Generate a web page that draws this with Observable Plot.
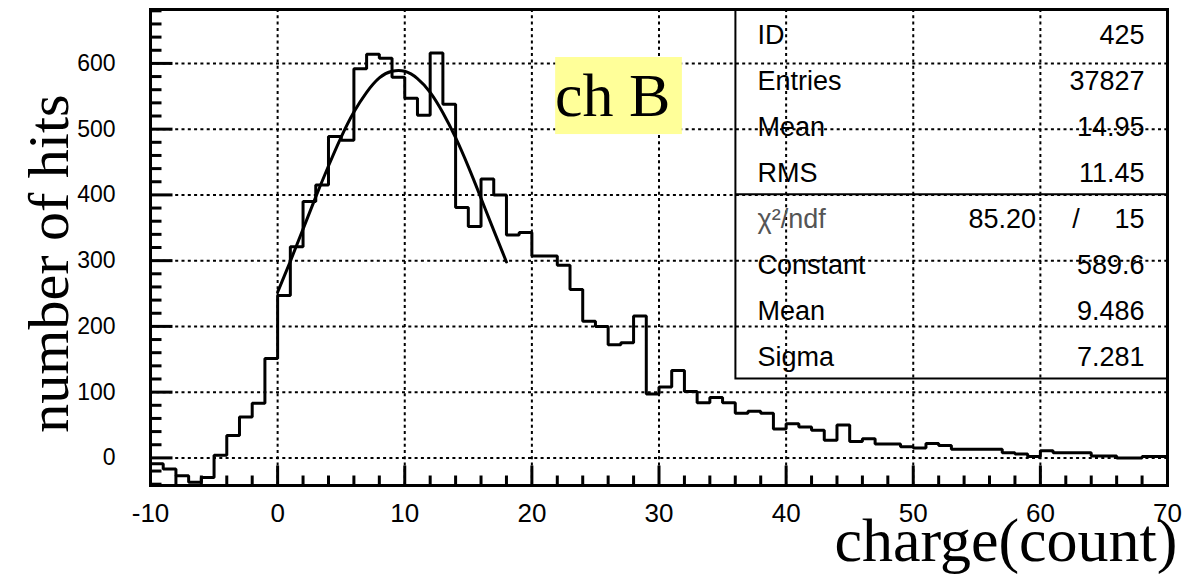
<!DOCTYPE html>
<html><head><meta charset="utf-8">
<script src="https://cdn.jsdelivr.net/npm/d3@7"></script>
<script src="https://cdn.jsdelivr.net/npm/@observablehq/plot@0.6"></script>
<style>body{margin:0;background:#fff} #chart svg{display:block}</style>
</head><body><div id="chart"></div>
<script>
// ---- data ----
const binLowEdges = [-10,-9,-8,-7,-6,-5,-4,-3,-2,-1,0,1,2,3,4,5,6,7,8,9,10,11,12,13,14,15,16,17,18,19,20,21,22,23,24,25,26,27,28,29,30,31,32,33,34,35,36,37,38,39,40,41,42,43,44,45,46,47,48,49,50,51,52,53,54,55,56,57,58,59,60,61,62,63,64,65,66,67,68,69];
const binUpperEdge = 70;
const hitCounts = [-9,-17,-27,-37,-30,4,34,62,83,151,247,321,390,415,489,483,592,614,608,579,547,521,616,538,381,352,424,400,339,343,307,307,293,256,208,200,172,175,216,97,108,133,101,84,92,84,68,71,68,44,52,47,42,27,50,25,29,21,21,17,15,22,19,13,13,13,13,8,6,2,11,8,8,8,3,3,0,0,2,2];
const fitX = [0,1,2,3,4,5,6,7,8,9,10,11,12,13,14,15,16,17,18];
const fitY = [252,299,348,397,444,488,526,556,578,588,588,577,556,525,487,443,395,346,298];
const xMajor = [-10,0,10,20,30,40,50,60,70];
const xMinor = [-8,-6,-4,-2,2,4,6,8,12,14,16,18,22,24,26,28,32,34,36,38,42,44,46,48,52,54,56,58,62,64,66,68];
const yMajor = [0,100,200,300,400,500,600];
const yMinor = [-40,-20,20,40,60,80,120,140,160,180,220,240,260,280,320,340,360,380,420,440,460,480,520,540,560,580,620,640,660,680];
const xGrid = [0,10,20,30,40,50,60];
const yGrid = [0,100,200,300,400,500,600];
const statNames = ["ID","Entries","Mean","RMS","\u03C7\u00B2/ndf","Constant","Mean","Sigma"];
const statValues = ["425","37827","14.95","11.45","15","589.6","9.486","7.281"];
const chi2Value = ["85.20"];
const channelLabel = ["ch B"];
const yTitle = ["number of hits"];
const xTitle = ["charge(count)"];

// ---- layout ----
const W = 1185, H = 582, mL = 150, mR = 18, mT = 9, mB = 97;
const xDom = [-10, 70], yDom = [-42, 682];
const pxPerX = (W - mL - mR) / (xDom[1] - xDom[0]);
const pxPerY = (H - mT - mB) / (yDom[1] - yDom[0]);

// annotation geometry (data units)
const statsBox = {x1: 36.05, x2: 70, y1: 120, y2: 682, divider: 401};
const statLabelX = 37.75, statValueX = 68.2, chi2X = 59.66, slashX = 62.8;
const statRowTop = 642.5, statRowStep = 70;
const chBox = {x1: 21.87, x2: 31.84, y1: 491.8, y2: 609, tx: 26.36, ty: 519.6};

const histPts = binLowEdges.map((x, i) => ({x, y: hitCounts[i]}));
histPts.push({x: binUpperEdge, y: hitCounts[hitCounts.length - 1]});
const fitPts = fitX.map((x, i) => ({x, y: fitY[i]}));

const yTickPts = yMajor.map(v => ({v, len: 22})).concat(yMinor.map(v => ({v, len: 11})));
const xTickPts = xMajor.map(v => ({v, len: 20})).concat(xMinor.map(v => ({v, len: 10})));

const sans = "'Liberation Sans', Arial, Helvetica, sans-serif";
const serif = "'Liberation Serif', 'Times New Roman', serif";
const dots = "3,3.3";

const chart = Plot.plot({
  width: W, height: H,
  marginLeft: mL, marginRight: mR, marginTop: mT, marginBottom: mB,
  x: {domain: xDom},
  y: {domain: yDom},
  style: {background: "white", fontFamily: sans, overflow: "visible"},
  marks: [
    Plot.gridX(xGrid, {stroke: "black", strokeOpacity: 1, strokeWidth: 2, strokeDasharray: dots}),
    Plot.gridY(yGrid, {stroke: "black", strokeOpacity: 1, strokeWidth: 2, strokeDasharray: dots}),
    Plot.rect([chBox], {x1: "x1", x2: "x2", y1: "y1", y2: "y2", fill: "#ffff99"}),
    Plot.text(channelLabel, {x: () => chBox.tx, y: () => chBox.ty, text: d => d, fontFamily: serif, fontSize: 62, lineAnchor: "bottom", textAnchor: "middle", fill: "black"}),
    Plot.line(histPts, {x: "x", y: "y", curve: "step-after", stroke: "black", strokeWidth: 3, strokeLinejoin: "miter"}),
    Plot.line(fitPts, {x: "x", y: "y", curve: "natural", stroke: "black", strokeWidth: 3}),
    Plot.rect([statsBox], {x1: "x1", x2: "x2", y1: "y1", y2: "y2", fill: "none", stroke: "black", strokeWidth: 2}),
    Plot.ruleY([statsBox.divider], {x1: statsBox.x1, x2: statsBox.x2, stroke: "black", strokeWidth: 2}),
    Plot.text(statNames, {x: () => statLabelX, y: (d, i) => statRowTop - i * statRowStep, text: d => d, textAnchor: "start", fontSize: 27, fill: (d, i) => i === 4 ? "#555" : "black"}),
    Plot.text(statValues, {x: () => statValueX, y: (d, i) => statRowTop - i * statRowStep, text: d => d, textAnchor: "end", fontSize: 27}),
    Plot.text(chi2Value, {x: () => chi2X, y: () => statRowTop - 4 * statRowStep, text: d => d, textAnchor: "end", fontSize: 27}),
    Plot.text(["/"], {x: () => slashX, y: () => statRowTop - 4 * statRowStep, text: d => d, textAnchor: "middle", fontSize: 27}),
    Plot.frame({stroke: "black", strokeWidth: 3}),
    // inward ticks
    Plot.link(yTickPts, {x1: () => xDom[0], x2: d => xDom[0] + d.len / pxPerX, y1: d => d.v, y2: d => d.v, stroke: "black", strokeWidth: 3}),
    Plot.link(xTickPts, {y1: () => yDom[0], y2: d => yDom[0] + d.len / pxPerY, x1: d => d.v, x2: d => d.v, stroke: "black", strokeWidth: 3}),
    // tick labels
    Plot.axisY({ticks: yMajor, tickSize: 0, tickPadding: 35, fontSize: 23, tickFormat: d => String(d), label: null}),
    Plot.axisX({ticks: xMajor, tickSize: 0, tickPadding: 18, fontSize: 26, tickFormat: d => String(d), label: null}),
    Plot.text(yTitle, {frameAnchor: "left", rotate: -90, dx: -83, dy: 16, text: d => d, fontFamily: serif, fontSize: 58, lineAnchor: "bottom", textAnchor: "middle"}),
    Plot.text(xTitle, {frameAnchor: "bottom-right", dx: 10, dy: 75, text: d => d, fontFamily: serif, fontSize: 62, lineAnchor: "bottom", textAnchor: "end"})
  ]
});
document.getElementById("chart").appendChild(chart);
</script></body></html>
